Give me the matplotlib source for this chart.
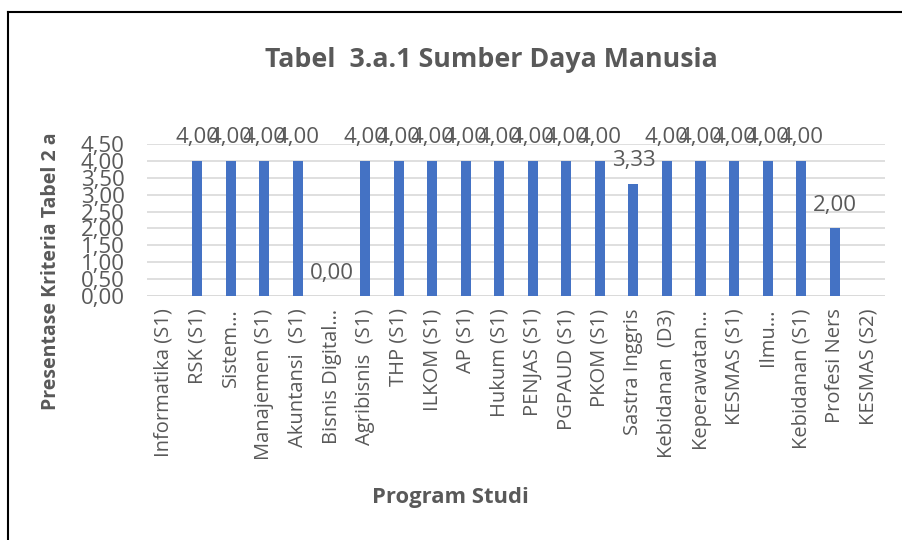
import numpy as np
import matplotlib
matplotlib.use("Agg")
import matplotlib.pyplot as plt
from matplotlib.lines import Line2D

plt.rcParams["font.family"] = ["Open Sans", "DejaVu Sans"]

# data (NaN = no bar / no label)
categories = [
    "Informatika (S1)", "RSK (S1)", "Sistem…", "Manajemen (S1)",
    "Akuntansi  (S1)", "Bisnis Digital…", "Agribisnis  (S1)", "THP (S1)",
    "ILKOM (S1)", "AP (S1)", "Hukum (S1)", "PENJAS (S1)", "PGPAUD (S1)",
    "PKOM (S1)", "Sastra Inggris", "Kebidanan  (D3)", "Keperawatan…",
    "KESMAS (S1)", "Ilmu…", "Kebidanan (S1)", "Profesi Ners", "KESMAS (S2)",
]
values = [
    np.nan, 4.00, 4.00, 4.00, 4.00, 0.00, 4.00, 4.00, 4.00, 4.00, 4.00,
    4.00, 4.00, 4.00, 3.33, 4.00, 4.00, 4.00, 4.00, 4.00, 2.00, np.nan,
]
y_ticks = [0.0, 0.5, 1.0, 1.5, 2.0, 2.5, 3.0, 3.5, 4.0, 4.5]

TEXT = "#595959"
BAR = "#4472C4"
GRID = "#D9D9D9"
W, H = 903, 540

fig = plt.figure(figsize=(W / 100, H / 100), dpi=100)
fig.patch.set_facecolor("white")

ax = fig.add_axes([147 / W, (H - 296) / H, (885 - 147) / W, (296 - 144) / H])
x = np.arange(len(categories))
ax.bar(x, values, width=0.3, color=BAR, zorder=3)

for xi, v in zip(x, values):
    if np.isnan(v):
        continue
    ax.annotate(f"{v:.2f}".replace(".", ","), (xi, v), textcoords="offset points",
                xytext=(0, 9), ha="center", va="bottom", fontsize=16,
                color=TEXT, zorder=4, annotation_clip=False)

ax.set_xlim(-0.5, len(categories) - 0.5)
ax.set_ylim(0, 4.5)
ax.set_yticks(y_ticks)
ax.set_yticklabels([f"{t:.2f}".replace(".", ",") for t in y_ticks],
                   fontsize=16, color=TEXT)
ax.set_xticks(x)
ax.set_xticklabels(categories, rotation=90, fontsize=14.5, color=TEXT,
                   ha="center", va="top")
ax.tick_params(axis="x", length=0, pad=9)
ax.tick_params(axis="y", length=0, pad=16)
ax.grid(axis="y", color=GRID, linewidth=1.2, zorder=0)
for s in ax.spines.values():
    s.set_visible(False)
ax.axhline(0, color=GRID, linewidth=1.2, zorder=2)

fig.text(491 / W, 1 - 60 / H, "Tabel  3.a.1 Sumber Daya Manusia", ha="center",
         va="center", fontsize=19.3, fontweight="bold", color=TEXT)
fig.text(51 / W, 1 - 271 / H, "Presentase Kriteria Tabel 2 a", rotation=90,
         ha="center", va="center", fontsize=14, fontweight="bold", color=TEXT)
fig.text(450 / W, 1 - 497 / H, "Program Studi", ha="center", va="center",
         fontsize=15.8, fontweight="bold", color=TEXT)

# chart frame (top and left edges visible in the crop)
fig.add_artist(Line2D([8 / W, 1.0], [1 - 12 / H, 1 - 12 / H], color="black",
                      linewidth=1.5, transform=fig.transFigure))
fig.add_artist(Line2D([8 / W, 8 / W], [0.0, 1 - 12 / H], color="black",
                      linewidth=1.5, transform=fig.transFigure))

fig.savefig("out.png", dpi=100, facecolor="white")
